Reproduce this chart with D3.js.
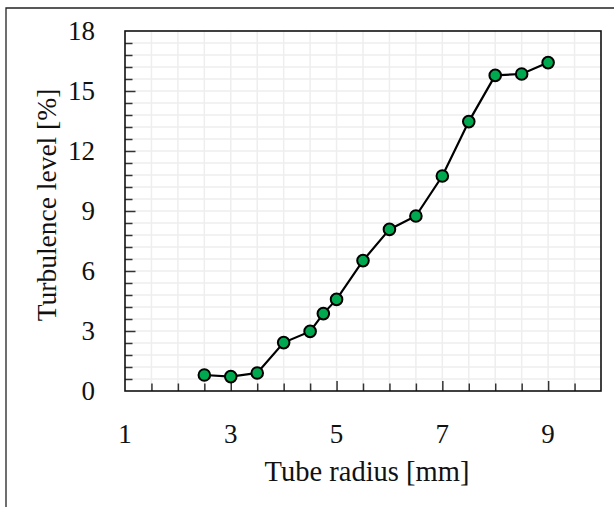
<!DOCTYPE html>
<html>
<head>
<meta charset="utf-8">
<script src="https://cdn.jsdelivr.net/npm/d3@7"></script>
<style>
  body { margin: 0; background: #fff; }
  svg { display: block; }
  text { font-family: "Liberation Serif", "DejaVu Serif", serif; fill: #111; }
</style>
</head>
<body>
<div id="chart"></div>
<script>
// Data
const radius = [2.5, 3, 3.5, 4, 4.5, 4.75, 5, 5.5, 6, 6.5, 7, 7.5, 8, 8.5, 9]
const turbulence = [0.8, 0.72, 0.9, 2.42, 2.98, 3.87, 4.58, 6.52, 8.08, 8.75, 10.75, 13.47, 15.78, 15.85, 16.42]
const xTickLabels = [1, 3, 5, 7, 9]
const yTickLabels = [0, 3, 6, 9, 12, 15, 18]
const xMinorTicks = d3.range(1.5, 10, 0.5)
const yMinorTicks = d3.range(0.6, 18, 0.6)

const WIDTH = 614
const HEIGHT = 507
const PLOT = {LEFT:125, RIGHT:601, TOP:31, BOTTOM:391}

let svg = d3.select("#chart").append("svg")
    .attr("width", WIDTH)
    .attr("height", HEIGHT)

// outer frame, only left and top edges show
svg.append("path")
    .attr("d", `M6,${HEIGHT} L6,8 L${WIDTH},8`)
    .attr("fill", "none")
    .attr("stroke", "#222")
    .attr("stroke-width", 1.3)

let x = d3.scaleLinear().domain([1, 10]).range([PLOT.LEFT, PLOT.RIGHT])
let y = d3.scaleLinear().domain([0, 18]).range([PLOT.BOTTOM, PLOT.TOP])

// grid
let grid = svg.append("g").attr("stroke", "#eeeeee").attr("stroke-width", 1.5)
grid.selectAll(".gx").data(xMinorTicks).join("line")
    .attr("x1", d => x(d)).attr("x2", d => x(d))
    .attr("y1", PLOT.TOP).attr("y2", PLOT.BOTTOM)
grid.selectAll(".gy").data(yMinorTicks).join("line")
    .attr("y1", d => y(d)).attr("y2", d => y(d))
    .attr("x1", PLOT.LEFT).attr("x2", PLOT.RIGHT)

// inward ticks
function isMajorX(d) { return xTickLabels.some(v => Math.abs(v - d) < 1e-6) }
function isMajorY(d) { return yTickLabels.some(v => Math.abs(v - d) < 1e-6) }

let xAxis = svg.append("g")
    .attr("transform", `translate(0,${PLOT.BOTTOM})`)
    .call(d3.axisBottom(x).tickValues(xMinorTicks).tickSizeInner(-8).tickSizeOuter(0).tickFormat(""))
xAxis.select(".domain").remove()
xAxis.selectAll(".tick line").attr("y2", d => isMajorX(d) ? -10 : -7.5)
    .attr("stroke", "#333").attr("stroke-width", 1.5)

let yAxis = svg.append("g")
    .attr("transform", `translate(${PLOT.LEFT},0)`)
    .call(d3.axisLeft(y).tickValues(yMinorTicks).tickSizeInner(-8).tickSizeOuter(0).tickFormat(""))
yAxis.select(".domain").remove()
yAxis.selectAll(".tick line").attr("x2", d => isMajorY(d) ? 10.5 : 7.5)
    .attr("stroke", "#333").attr("stroke-width", 1.5)

// tick labels
svg.append("g").selectAll("text").data(xTickLabels).join("text")
    .attr("x", d => x(d))
    .attr("y", 443)
    .attr("text-anchor", "middle")
    .attr("font-size", 27)
    .text(d => d)

svg.append("g").selectAll("text").data(yTickLabels).join("text")
    .attr("x", 95)
    .attr("y", d => y(d) + 9)
    .attr("text-anchor", "end")
    .attr("font-size", 27)
    .text(d => d)

// plot frame
svg.append("rect")
    .attr("x", PLOT.LEFT).attr("y", PLOT.TOP)
    .attr("width", PLOT.RIGHT - PLOT.LEFT).attr("height", PLOT.BOTTOM - PLOT.TOP)
    .attr("fill", "none").attr("stroke", "#111").attr("stroke-width", 1.6)

// line and markers
let points = radius.map((r, i) => ({r: r, t: turbulence[i]}))

svg.append("path")
    .datum(points)
    .attr("d", d3.line().x(d => x(d.r)).y(d => y(d.t)))
    .attr("fill", "none")
    .attr("stroke", "#000")
    .attr("stroke-width", 2.2)

svg.append("g").selectAll("circle").data(points).join("circle")
    .attr("cx", d => x(d.r))
    .attr("cy", d => y(d.t))
    .attr("r", 5.8)
    .attr("fill", "#00a94f")
    .attr("stroke", "#000")
    .attr("stroke-width", 2)

// axis titles
svg.append("text")
    .attr("x", (PLOT.LEFT + PLOT.RIGHT) / 2 + 4)
    .attr("y", 481)
    .attr("text-anchor", "middle")
    .attr("font-size", 28.5)
    .text("Tube radius [mm]")

svg.append("text")
    .attr("transform", `translate(56,205) rotate(-90)`)
    .attr("text-anchor", "middle")
    .attr("font-size", 27.5)
    .text("Turbulence level [%]")
</script>
</body>
</html>
